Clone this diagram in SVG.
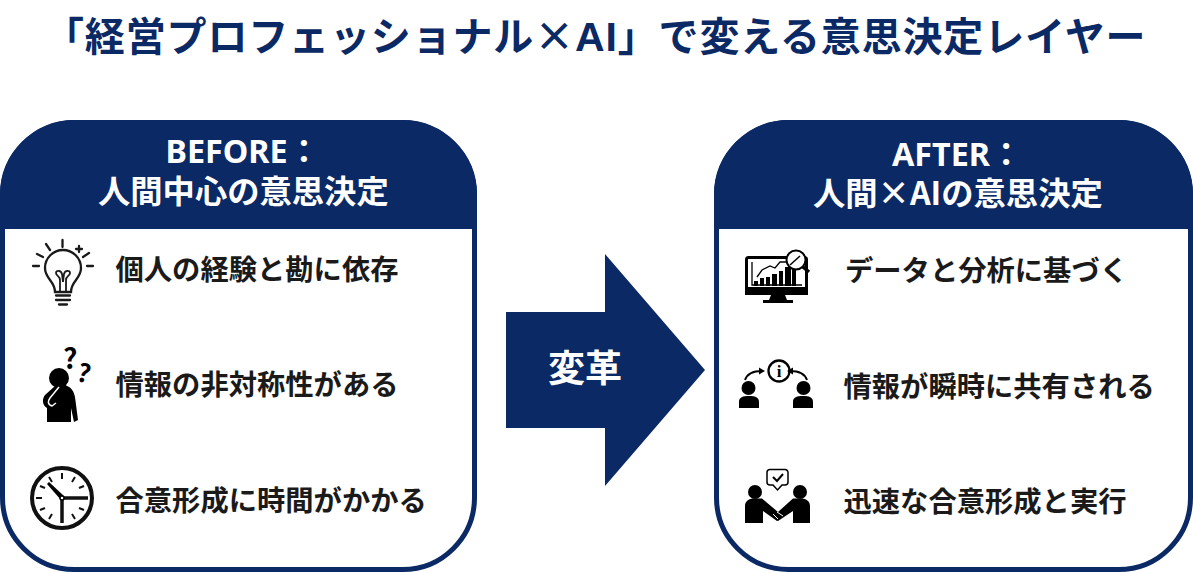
<svg xmlns="http://www.w3.org/2000/svg" width="1193" height="573" viewBox="0 0 1193 573">
<style>
text{font-family:"Noto Sans CJK JP","Noto Sans",sans-serif;font-weight:700}
.title{font-size:40px;fill:#0b2965;letter-spacing:.85px}
.head{font-size:32.300px;fill:#fff}
.lat{font-family:"Noto Sans",sans-serif}
.item{font-size:28.300px;fill:#1a1a1a}
.box{fill:#fff;stroke:#0b2965;stroke-width:5}
.hdr{fill:#0b2965}
.ln{fill:none;stroke:#1a1a1a;stroke-width:2.300;stroke-linecap:round}
.k{fill:#000}
</style>
<rect width="1193" height="573" fill="#fff"/>
<text id="title" class="title" x="44" y="51">「経営プロフェッショナル×<tspan style="font-family:'Liberation Sans',sans-serif" font-size="41">AI</tspan>」で変える意思決定レイヤー</text>
<g id="before">
<rect class="box" x="2.500" y="122.500" width="472" height="447" rx="72"/>
<path class="hdr" d="M0 229V195A75 75 0 0 1 75 120H402A75 75 0 0 1 477 195V229Z"/>
<text class="head"><tspan class="lat" x="165.500" y="163">BEFORE</tspan><tspan>：</tspan><tspan x="98" y="203">人間中心の意思決定</tspan></text>
</g>
<g id="after">
<rect class="box" x="716.500" y="122.500" width="474" height="447" rx="72"/>
<path class="hdr" d="M714 229V195A75 75 0 0 1 789 120H1118A75 75 0 0 1 1193 195V229Z"/>
<text class="head"><tspan class="lat" x="892" y="165.500">AFTER</tspan><tspan>：</tspan><tspan x="813" y="205">人間×AIの意思決定</tspan></text>
</g>
<g id="arrow">
<path class="hdr" d="M506 312H605V254L705 370L605 486V428H506Z"/>
<text x="585" y="382" font-size="37" fill="#fff" text-anchor="middle">変革</text>
</g>
<g id="b1">
<g class="ln">
<path d="M55 292C55 281 45 279 45 268A18 18 0 1 1 81 268C81 279 71 281 71 292Z"/>
<path d="M33 266H39M87 266H93M37 254L43 257M83 257L89 253M46 244L50 250M62.500 240V247M76 249H82M79 246V252"/>
<path d="M60 291V280C60 276 56 276 56 273C56 270 61 270 62 274L63 282L64 274C65 270 70 270 70 273C70 276 66 276 66 280V291" stroke-width="1.800"/>
<path d="M56 295.500H70M56 300H70M59 304.500H67"/>
</g>
<text class="item" x="115.500" y="279.500">個人の経験と勘に依存</text>
</g>
<g id="b2">
<circle class="k" cx="59" cy="378" r="10"/>
<path class="k" d="M62 382L67 386C72 388 74 392 75 397L78 420L74 422L71 408V422H47V408C42 405 42 399 45 395L55 386Z"/>
<path d="M59 387L50 398C48 401 47 404 52 406L56 403" stroke="#fff" stroke-width="1.500" fill="none"/>
<text x="63" y="369" font-size="28" fill="#000">?</text>
<text x="78" y="383" font-size="25" fill="#000" transform="rotate(14 87 372)">?</text>
<text class="item" x="115.500" y="394.500">情報の非対称性がある</text>
</g>
<g id="b3">
<circle cx="62" cy="498" r="30" fill="#fff" stroke="#111" stroke-width="4"/>
<path d="M62 473V479M62 517V523M36 498H42M49 477L52 482M75 477L72 482M49 519L52 514M75 519L72 514M40 486L45 488M84 486L79 488M40 510L45 508M84 510L79 508" stroke="#111" stroke-width="2"/>
<path class="k" d="M47 484L49 482L64 496L61 500Z"/>
<path d="M62 498H88M62 498V523" stroke="#111" stroke-width="3.500" fill="none"/>
<circle cx="62" cy="498" r="2" fill="#fff" stroke="#000" stroke-width="1.500"/>
<text class="item" x="115.500" y="510.500">合意形成に時間がかかる</text>
</g>
<g id="a1">
<rect x="746.500" y="257.500" width="60" height="33" rx="2" fill="#fff" stroke="#000" stroke-width="3"/>
<rect x="745" y="287" width="63" height="8" class="k"/>
<path class="k" d="M771 295H785L787 300H793V303H763V300H769Z"/>
<path class="k" d="M754 281h4v5h-4zM760 278h4v8h-4zM766 277h4v9h-4zM772 274h5v12h-5zM779 271h4v15h-4zM785 267h6v19h-6zM792 270h4v16h-4z"/>
<path d="M752 262V285H802M757 277L762 270L770 266L775 268L780 262L788 262L798 256" fill="none" stroke="#000" stroke-width="1.300"/>
<circle cx="796" cy="260" r="9.500" fill="#fff" stroke="#000" stroke-width="2"/>
<path d="M790 265L800 256" stroke="#000" stroke-width="1.500"/>
<path d="M803 267L809 272" stroke="#000" stroke-width="3.500"/>
<text class="item" x="845" y="281">データと分析に基づく</text>
</g>
<g id="a2">
<circle class="k" cx="748.500" cy="388" r="7"/><circle class="k" cx="803.500" cy="388" r="7"/>
<path class="k" d="M739 408V402C739 397 743 396 749 396C755 396 759 397 759 402V408ZM793 408V402C793 397 797 396 803 396C809 396 813 397 813 402V408Z"/>
<circle cx="779" cy="371" r="10.500" fill="#fff" stroke="#000" stroke-width="2.300"/>
<text x="779" y="377" font-size="17" fill="#000" text-anchor="middle" style="font-family:'Liberation Serif',serif">i</text>
<path d="M745 380C747 374 753 371 762 371M807 380C805 374 799 371 790 371" fill="none" stroke="#000" stroke-width="2"/>
<path class="k" d="M765 371L759 367.500V374.500ZM787 371L793 367.500V374.500Z"/>
<text class="item" x="843.500" y="397">情報が瞬時に共有される</text>
</g>
<g id="a3">
<circle class="k" cx="755" cy="492" r="7"/><circle class="k" cx="800" cy="492" r="7"/>
<path class="k" d="M745 523V506C745 501 749 498.500 754 498.500H762L778 512L782 516L777 521L763 511V523Z"/>
<path class="k" d="M810 523V506C810 501 806 498.500 801 498.500H793L778 512L773 517L778 521L793 511V523Z"/>
<path d="M773 514L778 519M777 512L783 516" stroke="#fff" stroke-width="1" fill="none"/>
<path d="M770 469.500H785A3 3 0 0 1 788 472.500H788V482A3 3 0 0 1 785 485H782L777.500 490L773 485H770A3 3 0 0 1 767 482V472.500A3 3 0 0 1 770 469.500Z" fill="#fff" stroke="#000" stroke-width="1.500"/>
<path d="M773 477L777 481L783 474" fill="none" stroke="#000" stroke-width="2"/>
<text class="item" x="843.500" y="512">迅速な合意形成と実行</text>
</g>
</svg>
